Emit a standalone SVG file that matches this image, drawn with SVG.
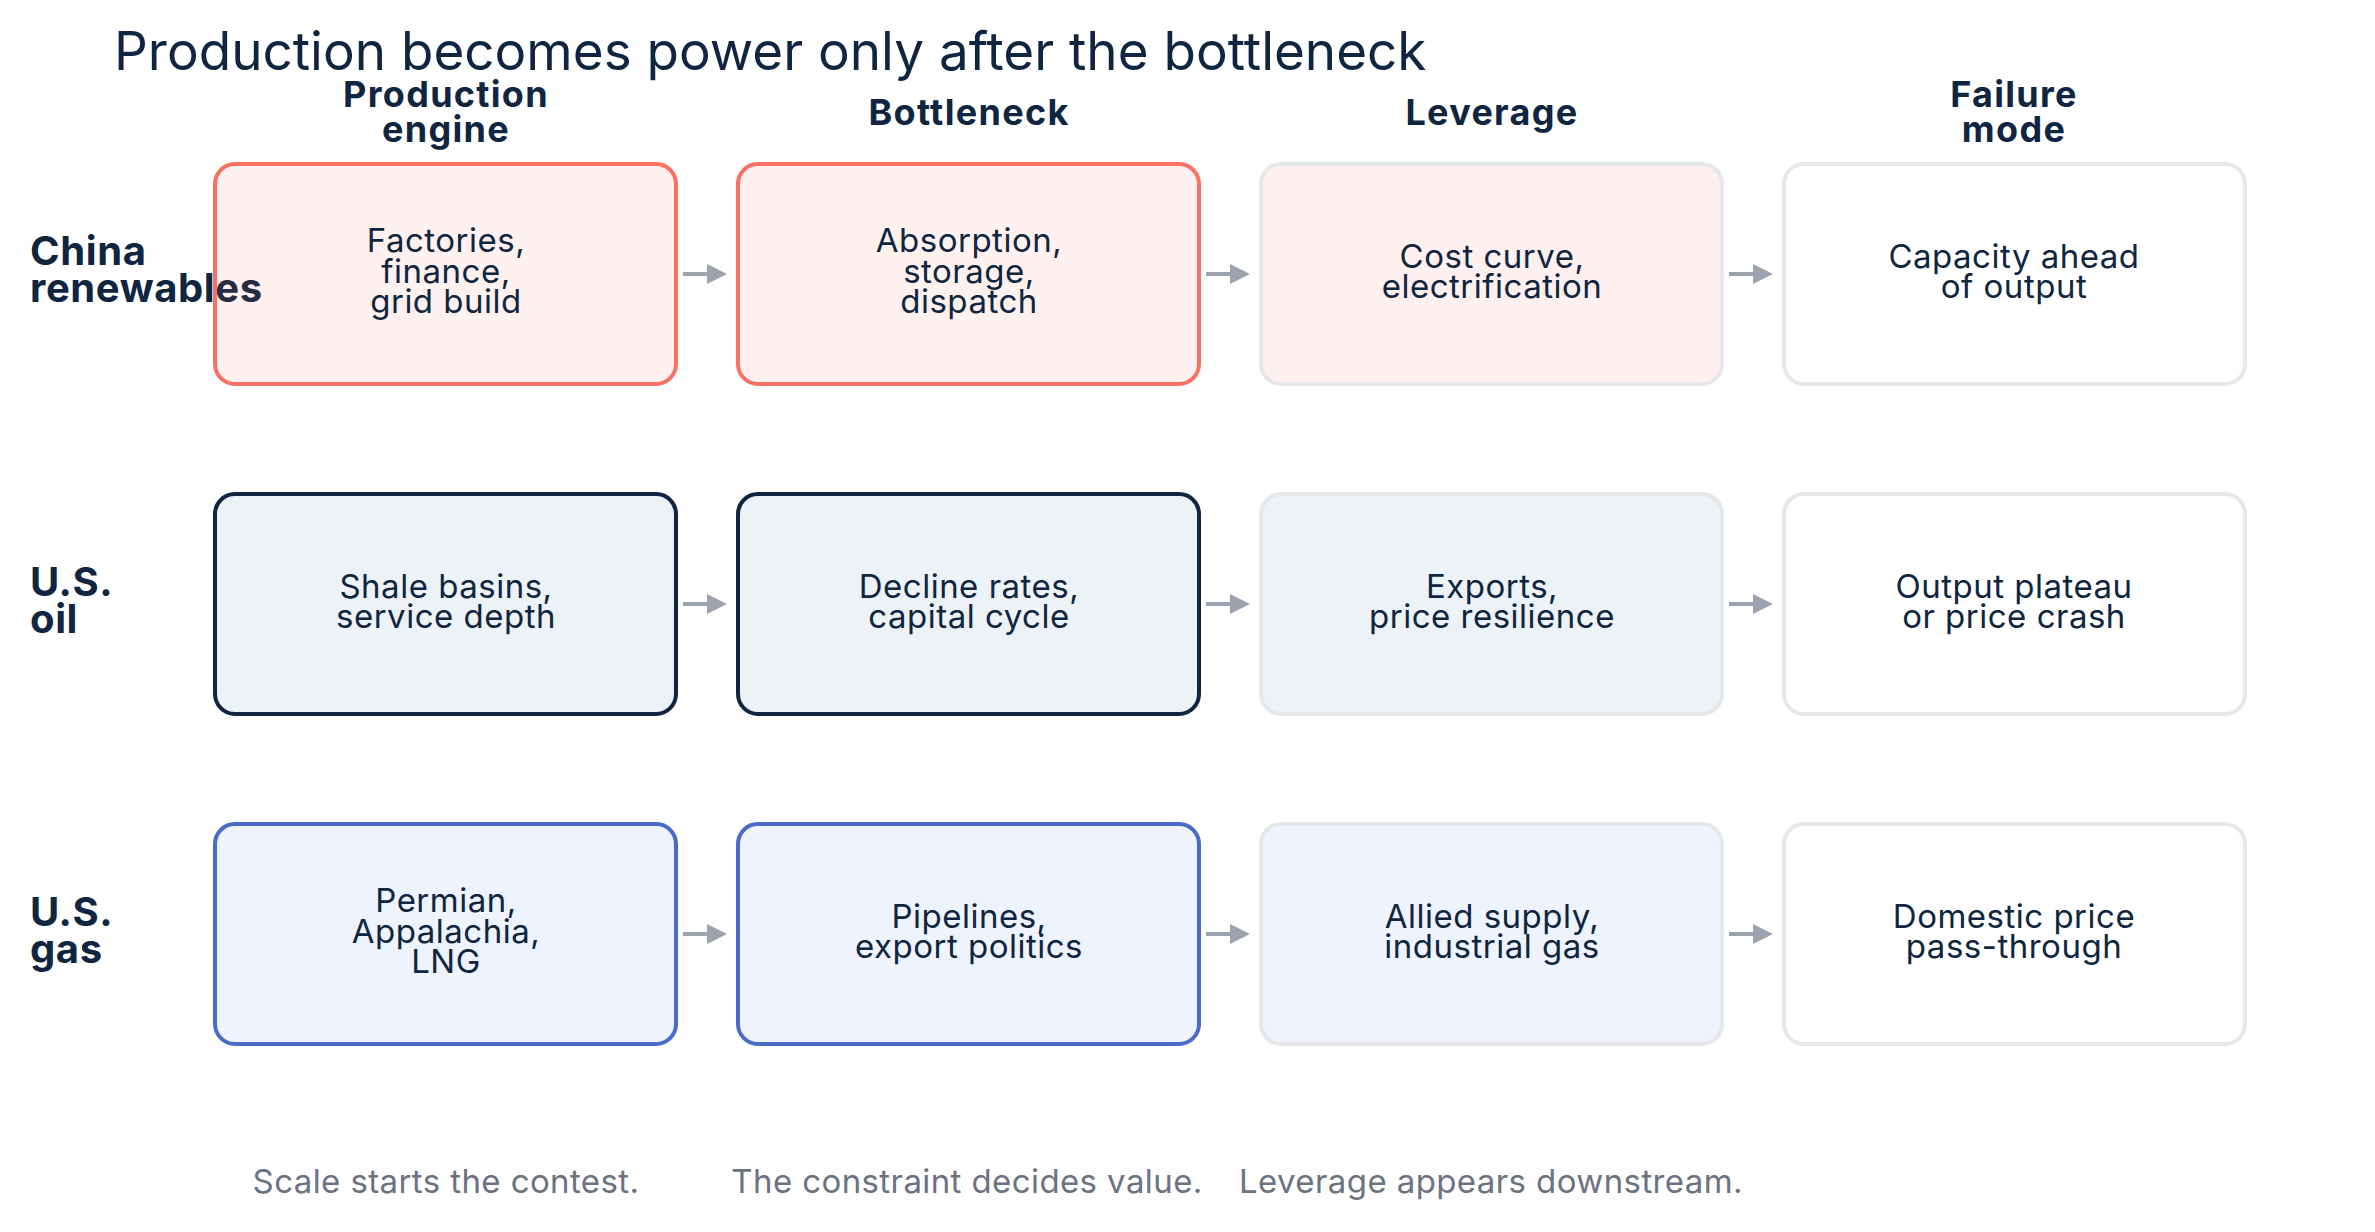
<svg xmlns="http://www.w3.org/2000/svg" width="2375" height="1232" viewBox="0 0 2375 1232">
<defs>
<style>
text{font-family:Inter,"Noto Sans","Liberation Sans",sans-serif;fill:#0f2540}
.title{font-size:53px;font-weight:400}
.hdr{font-size:36px;font-weight:700;text-anchor:middle;letter-spacing:1.3px}
.row{font-size:40px;font-weight:700;letter-spacing:0.6px}
.lbl{font-size:33px;font-weight:400;text-anchor:middle;letter-spacing:0.5px}
.foot{font-size:33px;font-weight:400;text-anchor:middle;fill:#6b7280;letter-spacing:0.4px}
.box{stroke-width:4}
.r1{fill:#f87162;fill-opacity:0.1;stroke:#f87162}
.r1l{fill:#fdf0ee;stroke:#e5e7eb}
.r2{fill:#edf2f7;stroke:#0f2540}
.r2l{fill:#edf2f7;stroke:#e5e7eb}
.r3{fill:#eef3fd;stroke:#4a6bc7}
.r3l{fill:#eef3fd;stroke:#e5e7eb}
.w{fill:#ffffff;stroke:#e5e7eb}
.edge{stroke:#9ca3af;stroke-width:4;fill:none}
</style>
<marker id="ah" markerWidth="20" markerHeight="20" refX="0" refY="10" markerUnits="userSpaceOnUse" orient="auto">
<path d="M0,0 L20,10 L0,20 Z" fill="#9ca3af"/>
</marker>
</defs>
<rect width="2375" height="1232" fill="#ffffff"/>
<text class="title" x="114" y="70">Production becomes power only after the bottleneck</text>
<g id="headers">
<text class="hdr" x="446" y="107">Production</text>
<text class="hdr" x="446" y="142">engine</text>
<text class="hdr" x="969" y="125">Bottleneck</text>
<text class="hdr" x="1492" y="125">Leverage</text>
<text class="hdr" x="2014" y="107">Failure</text>
<text class="hdr" x="2014" y="142">mode</text>
</g>
<g id="row-labels">
<text class="row" x="30" y="265">China</text>
<text class="row" x="30" y="302">renewables</text>
<text class="row" x="30" y="596">U.S.</text>
<text class="row" x="30" y="633">oil</text>
<text class="row" x="30" y="926">U.S.</text>
<text class="row" x="30" y="963">gas</text>
</g>
<g id="connectors">
<line class="edge" x1="683" y1="274" x2="707" y2="274" marker-end="url(#ah)"/>
<line class="edge" x1="1206" y1="274" x2="1230" y2="274" marker-end="url(#ah)"/>
<line class="edge" x1="1729" y1="274" x2="1753" y2="274" marker-end="url(#ah)"/>
<line class="edge" x1="683" y1="604" x2="707" y2="604" marker-end="url(#ah)"/>
<line class="edge" x1="1206" y1="604" x2="1230" y2="604" marker-end="url(#ah)"/>
<line class="edge" x1="1729" y1="604" x2="1753" y2="604" marker-end="url(#ah)"/>
<line class="edge" x1="683" y1="934" x2="707" y2="934" marker-end="url(#ah)"/>
<line class="edge" x1="1206" y1="934" x2="1230" y2="934" marker-end="url(#ah)"/>
<line class="edge" x1="1729" y1="934" x2="1753" y2="934" marker-end="url(#ah)"/>
</g>
<g id="china-engine"><rect class="box r1" x="215" y="164" width="461" height="220" rx="20"/>
<text class="lbl" x="446" y="252">Factories,</text><text class="lbl" x="446" y="283">finance,</text><text class="lbl" x="446" y="313">grid build</text></g>
<g id="china-bottleneck"><rect class="box r1" x="738" y="164" width="461" height="220" rx="20"/>
<text class="lbl" x="969" y="252">Absorption,</text><text class="lbl" x="969" y="283">storage,</text><text class="lbl" x="969" y="313">dispatch</text></g>
<g id="china-leverage"><rect class="box r1l" x="1261" y="164" width="461" height="220" rx="20"/>
<text class="lbl" x="1492" y="268">Cost curve,</text><text class="lbl" x="1492" y="298">electrification</text></g>
<g id="china-failure"><rect class="box w" x="1784" y="164" width="461" height="220" rx="20"/>
<text class="lbl" x="2014" y="268">Capacity ahead</text><text class="lbl" x="2014" y="298">of output</text></g>

<g id="oil-engine"><rect class="box r2" x="215" y="494" width="461" height="220" rx="20"/>
<text class="lbl" x="446" y="598">Shale basins,</text><text class="lbl" x="446" y="628">service depth</text></g>
<g id="oil-bottleneck"><rect class="box r2" x="738" y="494" width="461" height="220" rx="20"/>
<text class="lbl" x="969" y="598">Decline rates,</text><text class="lbl" x="969" y="628">capital cycle</text></g>
<g id="oil-leverage"><rect class="box r2l" x="1261" y="494" width="461" height="220" rx="20"/>
<text class="lbl" x="1492" y="598">Exports,</text><text class="lbl" x="1492" y="628">price resilience</text></g>
<g id="oil-failure"><rect class="box w" x="1784" y="494" width="461" height="220" rx="20"/>
<text class="lbl" x="2014" y="598">Output plateau</text><text class="lbl" x="2014" y="628">or price crash</text></g>

<g id="gas-engine"><rect class="box r3" x="215" y="824" width="461" height="220" rx="20"/>
<text class="lbl" x="446" y="912">Permian,</text><text class="lbl" x="446" y="943">Appalachia,</text><text class="lbl" x="446" y="973">LNG</text></g>
<g id="gas-bottleneck"><rect class="box r3" x="738" y="824" width="461" height="220" rx="20"/>
<text class="lbl" x="969" y="928">Pipelines,</text><text class="lbl" x="969" y="958">export politics</text></g>
<g id="gas-leverage"><rect class="box r3l" x="1261" y="824" width="461" height="220" rx="20"/>
<text class="lbl" x="1492" y="928">Allied supply,</text><text class="lbl" x="1492" y="958">industrial gas</text></g>
<g id="gas-failure"><rect class="box w" x="1784" y="824" width="461" height="220" rx="20"/>
<text class="lbl" x="2014" y="928">Domestic price</text><text class="lbl" x="2014" y="958">pass-through</text></g>

<g id="footer">
<text class="foot" x="446" y="1193">Scale starts the contest.</text>
<text class="foot" x="967" y="1193">The constraint decides value.</text>
<text class="foot" x="1491" y="1193">Leverage appears downstream.</text>
</g>
</svg>
